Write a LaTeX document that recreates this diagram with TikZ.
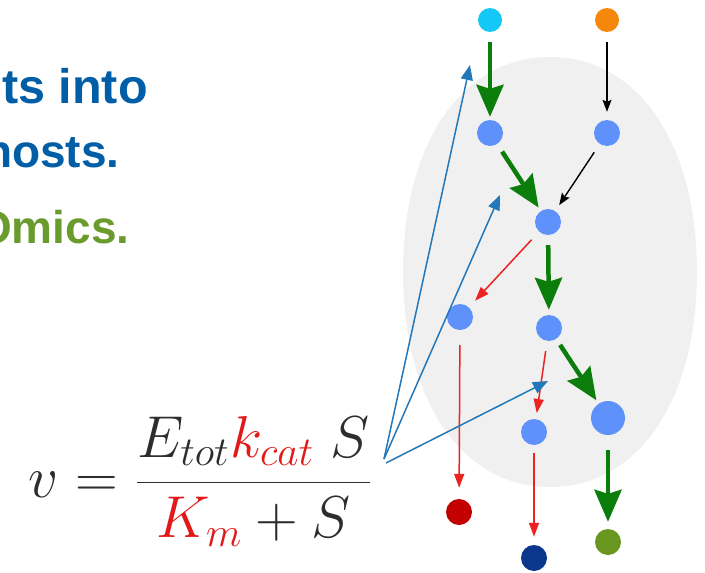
\documentclass[tikz,border=0pt]{standalone}
\usepackage{fontspec}
\newfontfamily\arialb{Liberation Sans}
\usetikzlibrary{arrows.meta}
\definecolor{txtblue}{RGB}{0,94,166}
\definecolor{txtgreen}{RGB}{106,155,45}
\definecolor{ellgrey}{RGB}{240,240,240}
\definecolor{ncyan}{RGB}{20,200,245}
\definecolor{norange}{RGB}{245,135,10}
\definecolor{nblue}{RGB}{95,145,250}
\definecolor{nred}{RGB}{195,0,0}
\definecolor{ndblue}{RGB}{10,55,140}
\definecolor{nolive}{RGB}{105,150,30}
\definecolor{agreen}{RGB}{10,125,10}
\definecolor{ared}{RGB}{235,35,35}
\definecolor{ablue}{RGB}{35,120,185}
\definecolor{eqgrey}{RGB}{45,45,45}
\definecolor{eqred}{RGB}{225,25,25}
\tikzset{
  dot/.style={circle,inner sep=0pt,minimum size=#1},
  garrow/.style={draw=agreen,line width=4.5pt,-{Stealth[length=32pt,width=27pt,inset=4pt]}},
  karrow/.style={draw=black,line width=1.4pt,-{Stealth[length=12pt,width=9pt,inset=2pt]}},
  rarrow/.style={draw=ared,line width=1.5pt,-{Triangle[length=14pt,width=10pt]}},
  barrow/.style={draw=ablue,line width=1.5pt,-{Triangle[length=15pt,width=12pt]}},
  headline/.style={font=\arialb\bfseries\fontsize{46}{50}\selectfont,anchor=base west,inner sep=0pt}
}
\begin{document}
\begin{tikzpicture}[x=1pt,y=-1pt]
\useasboundingbox (0,0) rectangle (705,573);
\begin{scope}
\clip (0,0) rectangle (705,573);
\node[headline,text=txtblue,font=\arialb\bfseries\fontsize{48.5}{50}\selectfont] (l1) at (2,103) {ts into};
\node[headline,text=txtblue] (l2) at (-16,167) {hosts.};
\node[headline,text=txtgreen] (l3) at (-24,243) {Omics.};
\end{scope}
% grey cell
\fill[ellgrey] (697,272) .. controls (697,143) and (638,57) .. (550,57)
  .. controls (462,57) and (403,143) .. (403,272)
  .. controls (403,401) and (462,487) .. (550,487)
  .. controls (638,487) and (697,401) .. (697,272) -- cycle;
% nodes
\node[dot=24pt,fill=ncyan] (c1) at (490,20) {};
\node[dot=24pt,fill=norange] (o1) at (607,20) {};
\node[dot=26pt,fill=nblue] (b1) at (490,133) {};
\node[dot=26pt,fill=nblue] (b2) at (607,133) {};
\node[dot=26pt,fill=nblue] (b3) at (548,222) {};
\node[dot=26pt,fill=nblue] (b4) at (460,317) {};
\node[dot=26pt,fill=nblue] (b5) at (549,328) {};
\node[dot=34pt,fill=nblue] (b6) at (608,418) {};
\node[dot=26pt,fill=nblue] (b7) at (534,432) {};
\node[dot=26pt,fill=nred] (r1) at (459,512) {};
\node[dot=26pt,fill=ndblue] (d1) at (534,558) {};
\node[dot=26pt,fill=nolive] (g1) at (608,542) {};
% arrows
\draw[garrow,shorten <=10pt,shorten >=3pt] (c1) -- (b1);
\draw[karrow,shorten <=10pt,shorten >=8pt] (o1) -- (b2);
\draw[garrow,shorten <=9pt,shorten >=4pt] (b1) -- (b3);
\draw[karrow,shorten <=10pt,shorten >=7pt] (b2) -- (b3);
\draw[garrow,shorten <=10pt,shorten >=5pt] (b3) -- (b5);
\draw[rarrow,shorten <=11pt,shorten >=9pt] (b3) -- (b4);
\draw[garrow,shorten <=7pt,shorten >=4pt] (b5) -- (b6);
\draw[rarrow,shorten <=10pt,shorten >=6pt] (b5) -- (b7);
\draw[rarrow,shorten <=15pt,shorten >=11pt] (b4) -- (r1);
\draw[rarrow,shorten <=8pt,shorten >=8pt] (b7) -- (d1);
\draw[garrow,shorten <=15pt,shorten >=7pt] (b6) -- (g1);
% equation
\node[anchor=base west,inner sep=0pt,text=eqgrey,font=\fontsize{20}{24}\selectfont,scale=2.85,transform shape] (eq) at (28,497)
  {$v=\displaystyle\frac{E_{tot}\textcolor{eqred}{k_{cat}}\;S}{\textcolor{eqred}{K_m}+S}$};
\coordinate (src1) at (384,459);
\coordinate (src2) at (386,463);
\coordinate (t1) at (470,65);
\coordinate (t2) at (500,195);
\coordinate (t3) at (548,381);
\draw[barrow] (src1) -- (t1);
\draw[barrow] (src1) -- (t2);
\draw[barrow] (src2) -- (t3);
\end{tikzpicture}
\end{document}
